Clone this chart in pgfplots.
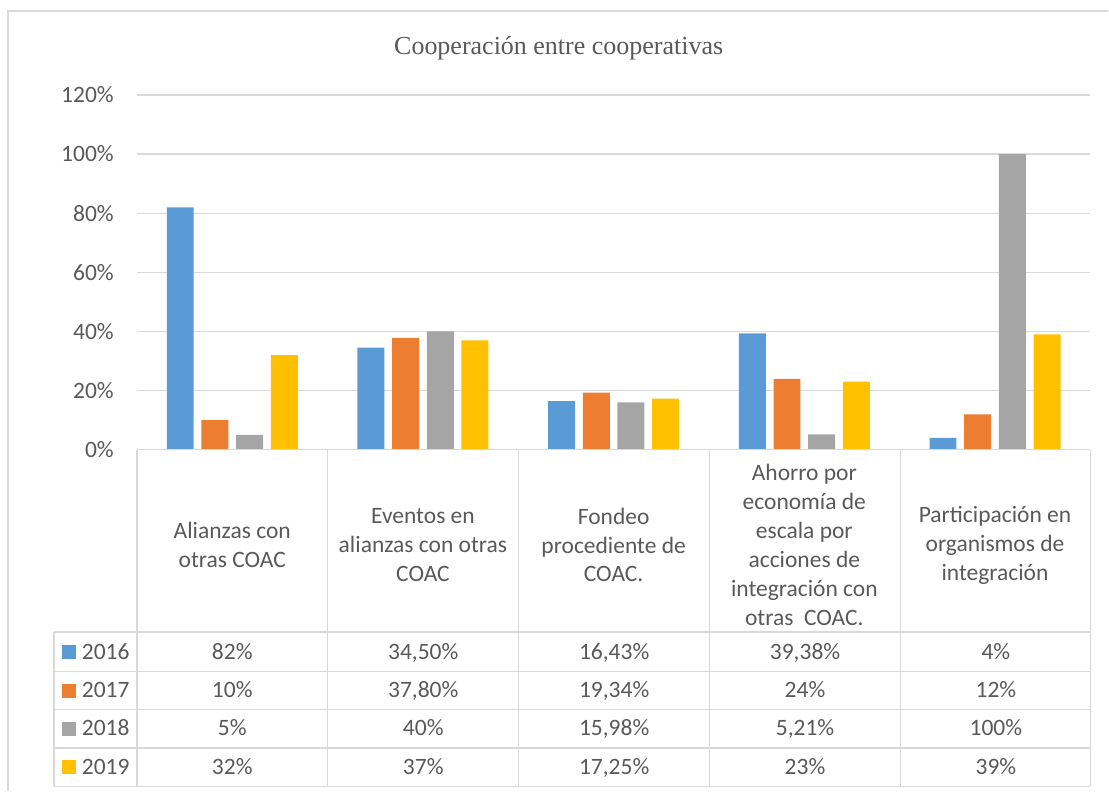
\documentclass[border=0pt]{standalone}
\usepackage{pgfplots}
\pgfplotsset{compat=1.18}
\usepackage{fontspec}
\setmainfont{Carlito}
\newfontfamily\titlefont{Liberation Serif}
\definecolor{c16}{HTML}{5B9BD5}
\definecolor{c17}{HTML}{ED7D31}
\definecolor{c18}{HTML}{A5A5A5}
\definecolor{c19}{HTML}{FFC000}
\definecolor{txt}{HTML}{595959}
\definecolor{grd}{HTML}{D9D9D9}
\begin{document}
\begin{tikzpicture}[x=1pt,y=1pt]
\path (-137,-341) rectangle (972,450);
\begin{axis}[
  at={(0,0)}, anchor=south west,
  scale only axis, width=954pt, height=355pt,
  xmin=-0.5, xmax=4.5, ymin=0, ymax=120,
  enlargelimits=false, clip=false,
  ybar=7.7pt, bar width=27pt,
  axis line style={draw=none},
  tick style={draw=none},
  ymajorgrids, major grid style={grd, line width=1.3pt},
  ytick={0,20,40,60,80,100,120},
  yticklabels={0\%,20\%,40\%,60\%,80\%,100\%,120\%},
  yticklabel style={font=\fontsize{23.5}{28}\selectfont, text=txt, inner sep=0pt, anchor=east, xshift=-23pt},
  xtick={0,1,2,3,4},
  xticklabels={{Alianzas con\\otras COAC},{Eventos en\\alianzas con otras\\COAC},{Fondeo\\procediente de\\COAC.},{Ahorro por\\economía de\\escala por\\acciones de\\integración con\\otras\ \ COAC.},{Participación en\\organismos de\\integración}},
  xticklabel style={font=\fontsize{23.5}{29}\selectfont, text=txt, align=center, anchor=center, inner sep=0pt, yshift=-91pt},
]
\addplot[fill=c16, draw=none] coordinates {(0,82) (1,34.5) (2,16.43) (3,39.38) (4,4)};
\addplot[fill=c17, draw=none] coordinates {(0,10) (1,37.8) (2,19.34) (3,24) (4,12)};
\addplot[fill=c18, draw=none] coordinates {(0,5) (1,40) (2,15.98) (3,5.21) (4,100)};
\addplot[fill=c19, draw=none] coordinates {(0,32) (1,37) (2,17.25) (3,23) (4,39)};
\end{axis}
% outer frame
\draw[grd, line width=1.3pt] (-129,-341) -- (-129,439) -- (972,439);
% title
\node[font=\titlefont\fontsize{26}{30}\selectfont, text=txt] at (422,402) {Cooperación entre cooperativas};
% data table grid
\begin{scope}[grd, line width=1.3pt]
\draw (0,0) -- (954,0);
\foreach \x in {0,191,382,573,764,954} \draw (\x,0) -- (\x,-336.7);
\foreach \y in {-182.3,-221.7,-260,-298.3,-336.7} \draw (-83,\y) -- (954,\y);
\draw (-83,-182.3) -- (-83,-336.7);
\end{scope}
% legend keys
\fill[c16] (-75,-209) rectangle (-61,-195);
\fill[c17] (-75,-248) rectangle (-61,-234);
\fill[c18] (-75,-286) rectangle (-61,-272);
\fill[c19] (-75,-324.5) rectangle (-61,-310.5);
\begin{scope}[every node/.style={font=\fontsize{23.5}{28}\selectfont, text=txt, inner sep=0pt, anchor=base}]
\node[anchor=base west] at (-55.3,-209.4) {2016};
\node[anchor=base west] at (-55.3,-248.4) {2017};
\node[anchor=base west] at (-55.3,-286.4) {2018};
\node[anchor=base west] at (-55.3,-324.9) {2019};
\node at (95.4,-209.4) {82\%};
\node at (286.5,-209.4) {34,50\%};
\node at (477.5,-209.4) {16,43\%};
\node at (668.5,-209.4) {39,38\%};
\node at (859.5,-209.4) {4\%};
\node at (95.4,-248.4) {10\%};
\node at (286.5,-248.4) {37,80\%};
\node at (477.5,-248.4) {19,34\%};
\node at (668.5,-248.4) {24\%};
\node at (859.5,-248.4) {12\%};
\node at (95.4,-286.4) {5\%};
\node at (286.5,-286.4) {40\%};
\node at (477.5,-286.4) {15,98\%};
\node at (668.5,-286.4) {5,21\%};
\node at (859.5,-286.4) {100\%};
\node at (95.4,-324.9) {32\%};
\node at (286.5,-324.9) {37\%};
\node at (477.5,-324.9) {17,25\%};
\node at (668.5,-324.9) {23\%};
\node at (859.5,-324.9) {39\%};
\end{scope}
\end{tikzpicture}
\end{document}
